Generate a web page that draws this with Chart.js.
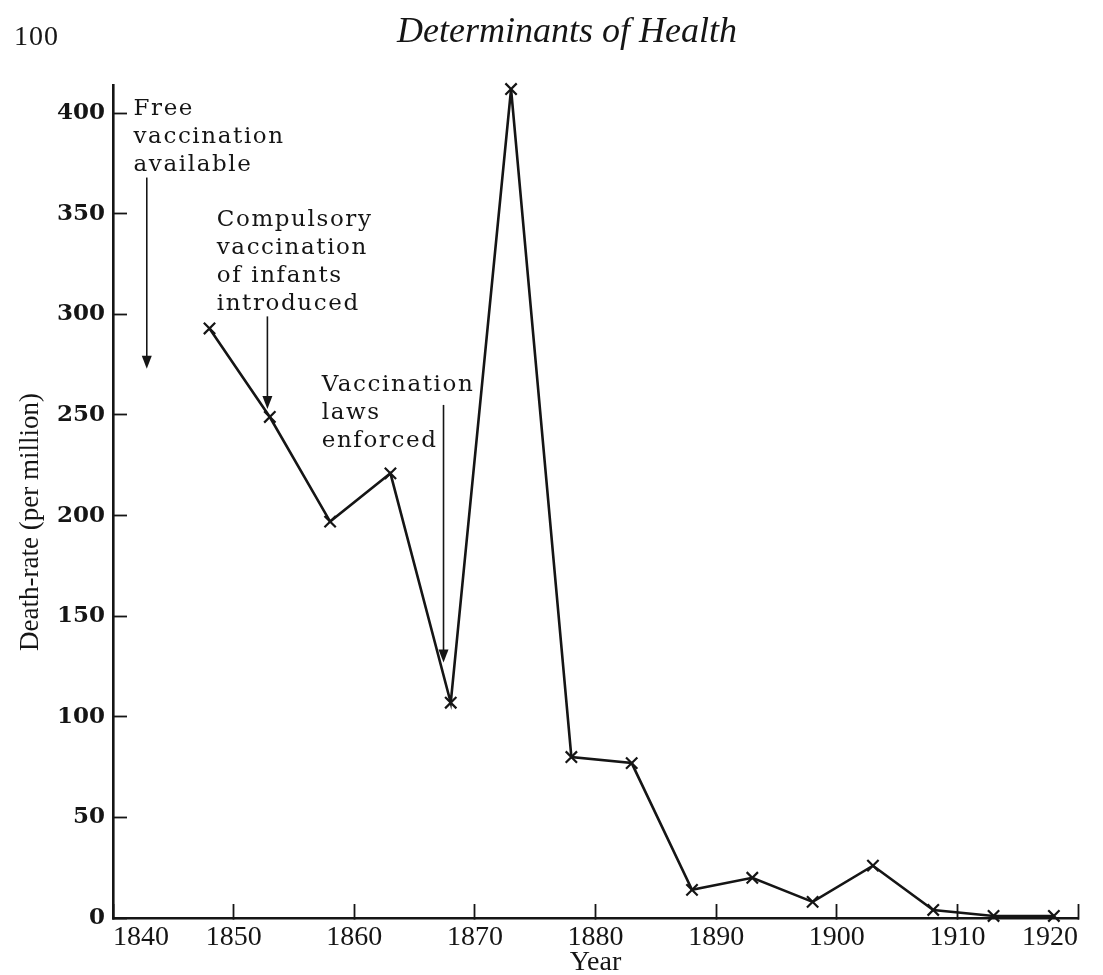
<!DOCTYPE html>
<html>
<head>
<meta charset="utf-8">
<title>Determinants of Health</title>
<script src="https://cdn.jsdelivr.net/npm/chart.js@4/dist/chart.umd.min.js"></script>
<style>
  html, body { margin: 0; padding: 0; background: #fff; }
  #wrap { width: 1103px; height: 975px; }
</style>
</head>
<body>
<div id="wrap"><canvas id="deathChart" width="1103" height="975"></canvas></div>
<script>
// Death-rate (per million), five-year periods
const years = [1848, 1853, 1858, 1863, 1868, 1873, 1878, 1883, 1888, 1893, 1898, 1903, 1908, 1913, 1918];
const deathRates = [293, 249, 197, 221, 107, 412, 80, 77, 14, 20, 8, 26, 4, 1, 1];

// axis ticks
const xTicks = [1840, 1850, 1860, 1870, 1880, 1890, 1900, 1910, 1920];
const yTicks = [0, 50, 100, 150, 200, 250, 300, 350, 400];

// notes: text anchored at (year, rate) of first line, arrow from/to rate
const noteTexts = [
  ["Free", "vaccination", "available"],
  ["Compulsory", "vaccination", "of infants", "introduced"],
  ["Vaccination", "laws", "enforced"]
];
const noteYears = [1841.7, 1848.6, 1857.3];
const noteRates = [399, 344, 262];
const arrowYears = [1842.8, 1852.8, 1867.4];
const arrowFrom = [368, 299, 255];
const arrowTo = [273, 253, 127];

const ink = "#151515";

// draw the notes and their arrows
const notesPlugin = {
  id: "notes",
  afterDatasetsDraw(chart) {
    const { ctx, scales: { x, y } } = chart;
    ctx.save();
    ctx.fillStyle = ink;
    ctx.strokeStyle = ink;
    ctx.font = "23px 'DejaVu Serif'";
    ctx.textAlign = "left";
    ctx.textBaseline = "alphabetic";
    if ("letterSpacing" in ctx) ctx.letterSpacing = "1.6px";
    noteTexts.forEach((lines, i) => {
      const px = x.getPixelForValue(noteYears[i]);
      const py = y.getPixelForValue(noteRates[i]);
      lines.forEach((line, j) => ctx.fillText(line, px, py + j * 28));
    });
    if ("letterSpacing" in ctx) ctx.letterSpacing = "0px";

    ctx.lineWidth = 1.6;
    arrowYears.forEach((yr, i) => {
      const ax = x.getPixelForValue(yr);
      const y1 = y.getPixelForValue(arrowFrom[i]);
      const y2 = y.getPixelForValue(arrowTo[i]);
      ctx.beginPath();
      ctx.moveTo(ax, y1);
      ctx.lineTo(ax, y2 - 10);
      ctx.stroke();
      ctx.beginPath();
      ctx.moveTo(ax - 5, y2 - 13);
      ctx.lineTo(ax + 5, y2 - 13);
      ctx.lineTo(ax, y2);
      ctx.closePath();
      ctx.fill();
    });
    ctx.restore();
  }
};

// page header and y axis title
const headerPlugin = {
  id: "header",
  afterDraw(chart) {
    const { ctx } = chart;
    ctx.save();
    ctx.fillStyle = ink;
    ctx.textBaseline = "alphabetic";
    ctx.textAlign = "left";
    ctx.font = "28px 'Liberation Serif'";
    if ("letterSpacing" in ctx) ctx.letterSpacing = "1px";
    ctx.fillText("100", 14, 45);
    if ("letterSpacing" in ctx) ctx.letterSpacing = "0px";
    ctx.textAlign = "center";
    ctx.font = "italic 36px 'Liberation Serif'";
    ctx.fillText("Determinants of Health", 567, 42);

    ctx.translate(31, 522);
    ctx.rotate(-Math.PI / 2);
    ctx.textBaseline = "middle";
    ctx.font = "27px 'Liberation Serif'";
    ctx.fillText("Death-rate (per million)", 0, 0);
    ctx.restore();
  }
};

const ctx = document.getElementById("deathChart").getContext("2d");
new Chart(ctx, {
  type: "line",
  data: {
    datasets: [{
      data: years.map((yr, i) => ({ x: yr, y: deathRates[i] })),
      borderColor: ink,
      borderWidth: 2.6,
      pointStyle: "crossRot",
      pointRadius: 8,
      pointBorderWidth: 2.2,
      pointBorderColor: ink,
      pointBackgroundColor: ink,
      tension: 0,
      fill: false,
      clip: false
    }]
  },
  options: {
    responsive: false,
    animation: false,
    layout: { padding: { left: 0, right: 25, top: 85, bottom: 0 } },
    plugins: {
      legend: { display: false },
      tooltip: { enabled: false },
      title: { display: false }
    },
    scales: {
      x: {
        type: "linear",
        min: 1840,
        max: 1920,
        afterBuildTicks: s => { s.ticks = xTicks.map(v => ({ value: v })); },
        afterFit: s => { s.height = 57; s.paddingLeft = 0; s.paddingRight = 0; },
        grid: { drawOnChartArea: false, drawTicks: true, tickLength: -14, tickWidth: 1.8, tickColor: ink },
        border: { display: true, color: ink, width: 2.6 },
        ticks: {
          color: ink,
          padding: 17,
          align: "inner",
          autoSkip: false,
          maxRotation: 0,
          font: { family: "'Liberation Serif'", size: 28 },
          callback: v => String(v)
        },
        title: {
          display: true,
          text: "Year",
          color: ink,
          padding: 0,
          font: { family: "'Liberation Serif'", size: 28, lineHeight: 0.9 }
        }
      },
      y: {
        type: "linear",
        min: 0,
        max: 414,
        afterBuildTicks: s => { s.ticks = yTicks.map(v => ({ value: v })); },
        afterFit: s => { s.width = 113; },
        grid: { drawOnChartArea: false, drawTicks: true, tickLength: -14, tickWidth: 1.8, tickColor: ink },
        border: { display: true, color: ink, width: 2.6 },
        ticks: {
          color: ink,
          padding: 22,
          font: { family: "'DejaVu Serif'", size: 23, weight: "bold" },
          callback: v => String(v)
        }
      }
    }
  },
  plugins: [notesPlugin, headerPlugin]
});
</script>
</body>
</html>
